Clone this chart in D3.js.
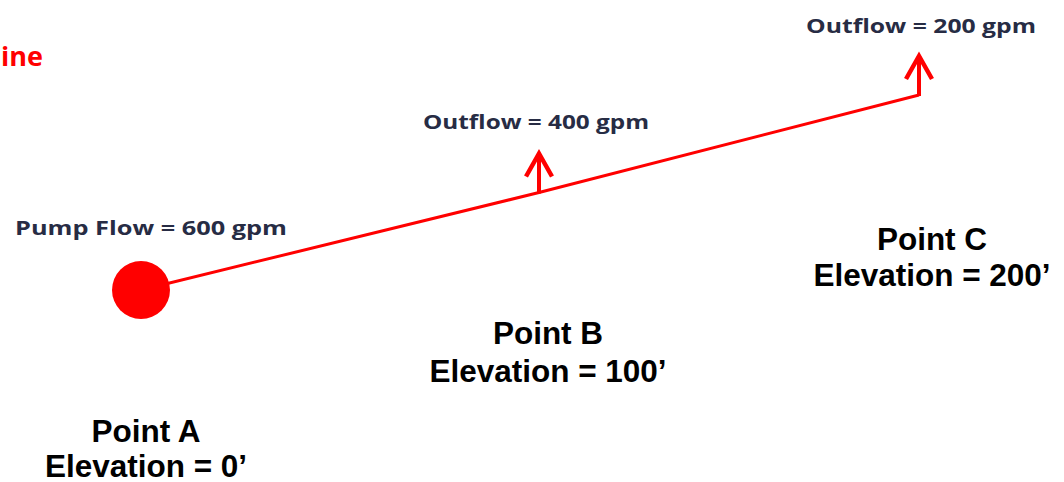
<!DOCTYPE html>
<html><head><meta charset="utf-8">
<script src="https://cdn.jsdelivr.net/npm/d3@7"></script>
<style>html,body{margin:0;padding:0;background:#fff;overflow:hidden}</style>
</head><body>
<svg id="chart" width="1064" height="482"></svg>
<script>
// ---- data ----
const pointNames = ["Point A", "Point B", "Point C"];
const stations = [0, 1, 2];
const elevations = [0, 100, 200];           // ft
const flowLabels = ["Pump Flow = 600 gpm", "Outflow = 400 gpm", "Outflow = 200 gpm"];
const flowValues = [600, 400, 200];          // gpm
const titleText = "Pipeline";

const svg = d3.select("#chart");
const red = "#ff0000";
const labelColor = "#272c44";

// scales
const x = d3.scaleLinear().domain([0, 1, 2]).range([141, 539, 919]);
const y = d3.scaleLinear().domain([0, 200]).range([290, 95]);

const pts = stations.map((s, i) => ({s, e: elevations[i], name: pointNames[i], label: flowLabels[i], flow: flowValues[i]}));

// title (cut off at left edge, as in the reference)
svg.append("text").attr("x", 43).attr("y", 66).attr("text-anchor", "end")
  .attr("font-family", "Open Sans, sans-serif").attr("font-weight", "bold")
  .attr("font-size", 27).attr("fill", red).text(titleText);

// pipeline
svg.append("path")
  .datum(pts)
  .attr("d", d3.line().x(d => x(d.s)).y(d => y(d.e)))
  .attr("fill", "none").attr("stroke", red).attr("stroke-width", 3);

// outflow arrows
const outs = pts.slice(1);
const arrowLen = 41, headH = 25, headW = 13;
const ag = svg.selectAll("g.arrow").data(outs).join("g").attr("class", "arrow");
ag.append("line")
  .attr("x1", d => x(d.s)).attr("x2", d => x(d.s))
  .attr("y1", d => y(d.e) + 1).attr("y2", d => y(d.e) - arrowLen + 2)
  .attr("stroke", red).attr("stroke-width", 4);
ag.append("path")
  .attr("d", d => {
    const cx = x(d.s), ty = y(d.e) - arrowLen;
    return `M${cx - headW},${ty + headH}L${cx},${ty + 2}L${cx + headW},${ty + headH}`;
  })
  .attr("fill", "none").attr("stroke", red).attr("stroke-width", 4.5)
  .attr("stroke-linejoin", "miter");

// pump circle
svg.append("circle").attr("cx", x(pts[0].s)).attr("cy", y(pts[0].e)).attr("r", 29).attr("fill", red);

// flow labels
const flowPos = [
  {dx: 10, dy: -55, w: 272},
  {dx: -3, dy: -64, w: 226},
  {dx: 2, dy: -62, w: 230}
];
svg.selectAll("text.flow").data(pts).join("text").attr("class", "flow")
  .attr("x", (d, i) => x(d.s) + flowPos[i].dx)
  .attr("y", (d, i) => y(d.e) + flowPos[i].dy)
  .attr("text-anchor", "middle")
  .attr("font-family", "Open Sans, sans-serif").attr("font-weight", "bold")
  .attr("font-size", 20).attr("fill", labelColor)
  .attr("textLength", (d, i) => flowPos[i].w).attr("lengthAdjust", "spacingAndGlyphs")
  .text(d => d.label);

// point / elevation labels
const ptLabelPos = [
  {cx: 146, y1: 442, gap: 35},
  {cx: 548, y1: 344, gap: 38},
  {cx: 932, y1: 250, gap: 36}
];
const pl = svg.selectAll("g.pl").data(pts).join("g").attr("class", "pl")
  .attr("font-family", "Liberation Sans, Arial, sans-serif").attr("font-weight", "bold")
  .attr("font-size", 31.5).attr("fill", "#000").attr("text-anchor", "middle");
pl.append("text").attr("x", (d, i) => ptLabelPos[i].cx).attr("y", (d, i) => ptLabelPos[i].y1).text(d => d.name);
pl.append("text").attr("x", (d, i) => ptLabelPos[i].cx).attr("y", (d, i) => ptLabelPos[i].y1 + ptLabelPos[i].gap)
  .text(d => `Elevation = ${d.e}\u2019`);
</script>
</body></html>
